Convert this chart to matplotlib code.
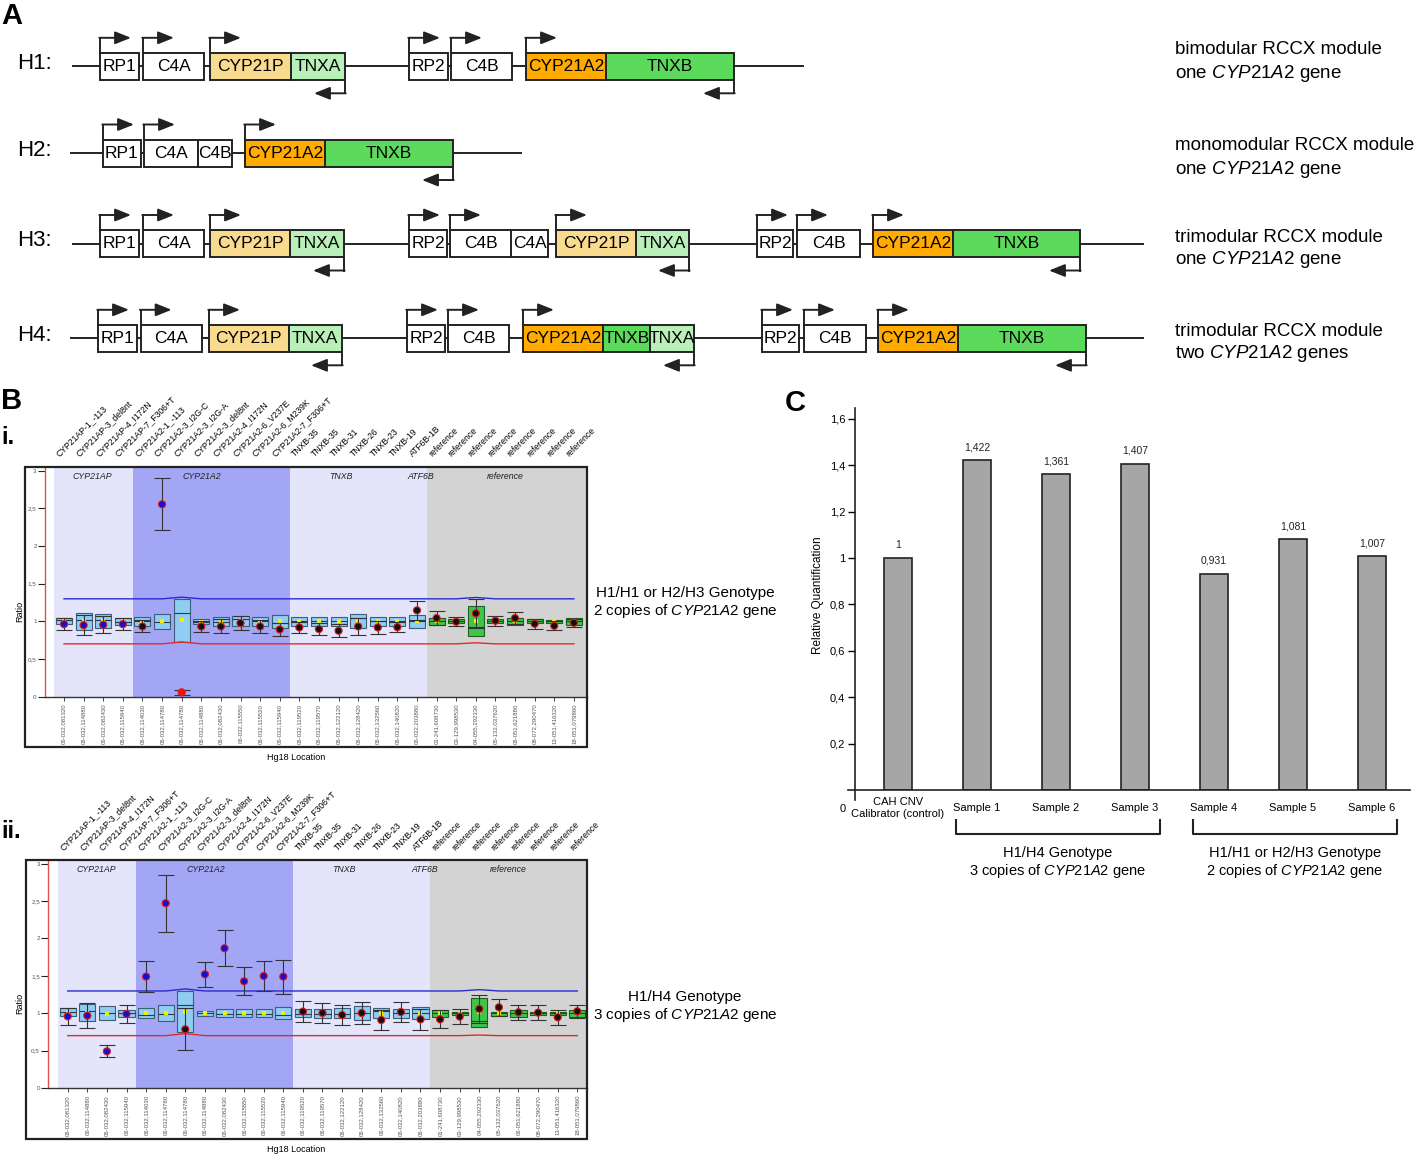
import matplotlib
matplotlib.use('Agg')
import matplotlib.pyplot as plt
import numpy as np
from matplotlib.patches import Rectangle

plt.rcParams['font.family'] = ['Liberation Sans', 'DejaVu Sans']
plt.rcParams['mathtext.fontset'] = 'custom'
plt.rcParams['mathtext.rm'] = 'Liberation Sans'
plt.rcParams['mathtext.it'] = 'Liberation Sans:italic'

W, H = 1417, 1157

# ---------------- panel A: RCCX haplotypes (schematic layout, pixels) ----------------
haplotypes = ['H1', 'H2', 'H3', 'H4']
hap_notes = [('bimodular RCCX module', r'one $\mathit{CYP21A2}$ gene'),
             ('monomodular RCCX module', r'one $\mathit{CYP21A2}$ gene'),
             ('trimodular RCCX module', r'one $\mathit{CYP21A2}$ gene'),
             ('trimodular RCCX module', r'two $\mathit{CYP21A2}$ genes')]
# gene name, start, end, promoter arrow ('f' forward at start, 'r' reverse at end)
hap_genes = {
    'H1': [('RP1', 100, 138.5, 'f'), ('C4A', 143, 204, 'f'), ('CYP21P', 210, 291, 'f'), ('TNXA', 291, 345, 'r'),
           ('RP2', 409, 448, 'f'), ('C4B', 451, 512, 'f'), ('CYP21A2', 526, 606, 'f'), ('TNXB', 606, 734, 'r')],
    'H2': [('RP1', 103, 141, 'f'), ('C4A', 144, 198, 'f'), ('C4B', 198, 232, ''), ('CYP21A2', 245, 325, 'f'),
           ('TNXB', 325, 453, 'r')],
    'H3': [('RP1', 100, 138.5, 'f'), ('C4A', 143, 204, 'f'), ('CYP21P', 210, 290, 'f'), ('TNXA', 290, 344, 'r'),
           ('RP2', 409, 447, 'f'), ('C4B', 450, 511, 'f'), ('C4A', 511, 548, ''), ('CYP21P', 556, 636, 'f'),
           ('TNXA', 636, 689, 'r'), ('RP2', 757, 793, 'f'), ('C4B', 797, 860, 'f'), ('CYP21A2', 873, 953, 'f'),
           ('TNXB', 953, 1080, 'r')],
    'H4': [('RP1', 98, 136.5, 'f'), ('C4A', 140.6, 202, 'f'), ('CYP21P', 209, 288.5, 'f'), ('TNXA', 288.5, 342, 'r'),
           ('RP2', 407, 445, 'f'), ('C4B', 448, 509, 'f'), ('CYP21A2', 523, 603, 'f'), ('TNXB', 603, 650, ''),
           ('TNXA', 650, 694, 'r'), ('RP2', 762, 799, 'f'), ('C4B', 804, 866, 'f'), ('CYP21A2', 878, 958, 'f'),
           ('TNXB', 958, 1086, 'r')],
}
hap_y = [66.3, 153, 243.5, 338.3]
hap_line = [(73, 803), (71, 521), (73, 1143), (71, 1143)]
note_y = [50, 146, 237, 331]
gene_colors = {'CYP21P': '#f9db90', 'TNXA': '#b9efb9', 'CYP21A2': '#ffab00', 'TNXB': '#5bda5b'}

# ---------------- panel B: MLPA probe ratios ----------------
probe_names = ['CYP21AP-1_-113', 'CYP21AP-3_del8nt', 'CYP21AP-4_I172N', 'CYP21AP-7_F306+T',
               'CYP21A2-1_-113', 'CYP21A2-3_I2G-C', 'CYP21A2-3_I2G-A', 'CYP21A2-3_del8nt',
               'CYP21A2-4_I172N', 'CYP21A2-6_V237E', 'CYP21A2-6_M239K', 'CYP21A2-7_F306+T',
               'TNXB-35', 'TNXB-35', 'TNXB-31', 'TNXB-26', 'TNXB-23', 'TNXB-19', 'ATF6B-1B',
               'reference', 'reference', 'reference', 'reference', 'reference', 'reference',
               'reference', 'reference']
probe_loc = ['06-032,081320', '06-032,114880', '06-032,082430', '06-032,115940', '06-032,114030',
             '06-032,114780', '06-032,114780', '06-032,114880', '06-032,082430', '06-032,115550',
             '06-032,115520', '06-032,115940', '06-032,119520', '06-032,119570', '06-032,122120',
             '06-032,128420', '06-032,132560', '06-032,140820', '06-032,203880', '01-241,608730',
             '03-129,998530', '04-055,292330', '05-132,037620', '06-051,621880', '08-072,290470',
             '13-051,416320', '18-051,079860']
region_names = ['CYP21AP', 'CYP21A2', 'TNXB', 'ATF6B', 'reference']
region_label_x = [1.45, 7.05, 14.1, 18.2, 22.5]
group_sizes = [4, 8, 7, 8]

# sample i. (H1/H1 or H2/H3)
bi_ratio = [0.964, 0.95, 0.955, 0.964, 0.933, 2.556, 0.058, 0.933, 0.933, 0.978, 0.933, 0.893, 0.92, 0.898,
            0.876, 0.933, 0.92, 0.924, 1.147, 1.044, 0.996, 1.107, 1.009, 1.044, 0.969, 0.942, 0.982]
bi_err = [0.08, 0.13, 0.115, 0.08, 0.08, 0.345, 0.03, 0.075, 0.093, 0.094, 0.083, 0.089, 0.07, 0.08,
          0.085, 0.113, 0.089, 0.066, 0.125, 0.092, 0.062, 0.193, 0.067, 0.08, 0.067, 0.058, 0.05]
bi_q1 = [0.964, 0.889, 0.911, 0.947, 0.933, 0.898, 0.733, 0.964, 0.933, 0.933, 0.933, 0.916, 0.933, 0.933,
         0.933, 0.907, 0.933, 0.933, 0.916, 0.947, 0.973, 0.809, 0.973, 0.947, 0.978, 0.978, 0.947]
bi_q3 = [1.044, 1.111, 1.098, 1.044, 1.058, 1.098, 1.298, 1.031, 1.058, 1.076, 1.058, 1.084, 1.058, 1.058,
         1.058, 1.098, 1.058, 1.058, 1.084, 1.044, 1.031, 1.209, 1.031, 1.044, 1.031, 1.022, 1.044]
bi_med = [1.013, 1.013, 1.013, 0.99, 1.0, 0.99, 1.111, 0.99, 0.99, 1.031, 1.0, 0.978, 1.0, 1.0,
          1.0, 1.04, 1.0, 1.0, 1.0, 1.0, 1.0, 0.93, 1.0, 1.0, 1.0, 1.0, 1.0]
bi_mean = [1.0, 1.0, 1.0, 1.0, 0.99, 1.0, 1.018, 0.99, 0.99, 1.0, 1.0, 1.0, 1.0, 1.0,
           1.0, 1.0, 1.0, 1.0, 1.0, 1.0, 1.0, 1.009, 1.0, 1.0, 1.0, 1.0, 1.0]
bi_call = ['B', 'B', 'B', 'B', 'K', 'B', 'R', 'K', 'K', 'K', 'K', 'K', 'K', 'K',
           'K', 'K', 'K', 'K', 'K', 'K', 'K', 'K', 'K', 'K', 'K', 'K', 'K']
bi_hi = [1.3, 1.3, 1.3, 1.3, 1.3, 1.3, 1.322, 1.3, 1.3, 1.3, 1.3, 1.3, 1.3, 1.3,
         1.3, 1.3, 1.3, 1.3, 1.3, 1.3, 1.3, 1.318, 1.3, 1.3, 1.3, 1.3, 1.3]
bi_lo = [0.702, 0.702, 0.702, 0.702, 0.702, 0.702, 0.728, 0.702, 0.702, 0.702, 0.702, 0.702, 0.702, 0.702,
         0.702, 0.702, 0.702, 0.702, 0.702, 0.702, 0.702, 0.716, 0.702, 0.702, 0.702, 0.702, 0.702]

# sample ii. (H1/H4)
bii_ratio = [0.958, 0.967, 0.49, 0.99, 1.489, 2.47, 0.785, 1.52, 1.868, 1.427, 1.498, 1.489, 1.021, 1.003,
             0.976, 1.003, 0.909, 1.016, 0.918, 0.918, 0.954, 1.057, 1.079, 1.012, 1.008, 0.945, 1.025]
bii_err = [0.11, 0.17, 0.08, 0.12, 0.207, 0.38, 0.28, 0.17, 0.243, 0.19, 0.2, 0.226, 0.138, 0.138,
           0.138, 0.15, 0.13, 0.13, 0.142, 0.12, 0.105, 0.187, 0.11, 0.1, 0.1, 0.1, 0.09]
bii_q1 = [0.967, 0.892, 0.905, 0.95, 0.936, 0.892, 0.745, 0.967, 0.945, 0.945, 0.945, 0.923, 0.945, 0.936,
          0.936, 0.905, 0.936, 0.936, 0.923, 0.945, 0.972, 0.816, 0.967, 0.945, 0.976, 0.972, 0.945]
bii_q3 = [1.07, 1.123, 1.101, 1.048, 1.066, 1.11, 1.297, 1.03, 1.057, 1.057, 1.057, 1.083, 1.057, 1.057,
          1.066, 1.101, 1.066, 1.057, 1.083, 1.043, 1.021, 1.199, 1.021, 1.043, 1.021, 1.017, 1.043]
bii_med = [1.017, 1.035, 1.003, 1.0, 0.976, 0.994, 1.11, 1.0, 0.994, 0.994, 0.994, 0.976, 0.994, 0.994,
           0.994, 1.0, 1.025, 1.0, 1.003, 1.003, 1.0, 0.9, 1.0, 1.0, 1.0, 1.0, 1.0]
bii_mean = [1.0, 1.0, 0.99, 1.0, 1.0, 1.0, 1.016, 1.0, 1.0, 1.0, 1.0, 1.0, 1.0, 1.0,
            1.0, 1.0, 1.0, 1.0, 1.0, 1.0, 1.0, 1.016, 1.0, 1.0, 1.0, 1.0, 1.0]
bii_call = ['B', 'B', 'B', 'B', 'B', 'B', 'K', 'B', 'B', 'B', 'B', 'B', 'K', 'K',
            'K', 'K', 'K', 'K', 'K', 'K', 'K', 'K', 'K', 'K', 'K', 'K', 'K']
bii_hi = [1.297, 1.297, 1.297, 1.297, 1.297, 1.297, 1.324, 1.297, 1.297, 1.297, 1.297, 1.297, 1.297, 1.297,
          1.297, 1.297, 1.297, 1.297, 1.297, 1.297, 1.297, 1.315, 1.297, 1.297, 1.297, 1.297, 1.297]
bii_lo = [0.7, 0.7, 0.7, 0.7, 0.7, 0.7, 0.727, 0.7, 0.7, 0.7, 0.7, 0.7, 0.7, 0.7,
          0.7, 0.7, 0.7, 0.7, 0.7, 0.7, 0.7, 0.708, 0.7, 0.7, 0.7, 0.7, 0.7]

# ---------------- panel C: qPCR relative quantification ----------------
c_labels = ['CAH CNV\nCalibrator (control)', 'Sample 1', 'Sample 2', 'Sample 3',
            'Sample 4', 'Sample 5', 'Sample 6']
c_values = [1, 1.422, 1.361, 1.407, 0.931, 1.081, 1.007]
c_groups = [(1, 3, 'H1/H4 Genotype', r'3 copies of $\mathit{CYP21A2}$ gene'),
            (4, 6, 'H1/H1 or H2/H3 Genotype', r'2 copies of $\mathit{CYP21A2}$ gene')]


def fmt_comma(v):
    return ('%g' % v).replace('.', ',')


fig = plt.figure(figsize=(W / 100, H / 100), dpi=100)


def axes_px(x0, y0, x1, y1, **kw):
    return fig.add_axes([x0 / W, 1 - y1 / H, (x1 - x0) / W, (y1 - y0) / H], **kw)


def draw_cnv(ax, ratio, err, q1, q3, med, mean, call, hi, lo, xlim, ylim, label_y):
    n = len(ratio)
    x = np.arange(n)
    ax.set_xlim(*xlim)
    ax.set_ylim(*ylim)

    edges = [-0.5]
    for size in group_sizes:
        edges.append(edges[-1] + size)
    edges[-1] = xlim[1]
    shades = ['#e4e4fb', '#a3a6f5', '#e4e4fb', '#d3d3d3']
    for k in range(4):
        ax.axvspan(edges[k], edges[k + 1], color=shades[k], lw=0, zorder=0)
    for name, xr in zip(region_names, region_label_x):
        ax.text(xr, 2.92, name, style='italic', ha='center', va='center', fontsize=6.3, color='#222')

    n_ref = group_sizes[-1]
    face = ['#8fcdf3'] * (n - n_ref) + ['#3fc64a'] * n_ref
    edge = ['#3c5e78'] * (n - n_ref) + ['#1f5e24'] * n_ref
    q1 = np.array(q1)
    q3 = np.array(q3)
    ax.bar(x, q3 - q1, bottom=q1, width=0.82, color=face, edgecolor=edge, lw=0.8, zorder=2)
    ax.hlines(med, x - 0.41, x + 0.41, colors='#2a3a48', lw=0.8, zorder=3)
    ax.plot(x, mean, 's', color='#f4f000', ms=2.2, mew=0, zorder=3)

    ax.plot(x, hi, color='#2a2ad2', lw=1.0, zorder=2)
    ax.plot(x, lo, color='#e02a2a', lw=1.0, zorder=2)

    ax.errorbar(x, ratio, yerr=err, fmt='none', ecolor='#333', elinewidth=0.8,
                capsize=5.5, capthick=0.8, zorder=4)
    dot = {'B': '#1010d0', 'K': '#111111', 'R': '#f01010'}
    ax.scatter(x, ratio, s=26, c=[dot[c] for c in call], edgecolors='#e01818', linewidths=0.8, zorder=5)

    for i, lab in enumerate(probe_names):
        ax.text(i - 0.15, label_y, lab, rotation=45, rotation_mode='anchor', ha='left', va='bottom',
                fontsize=6.2, clip_on=False)

    ax.set_xticks(x)
    ax.set_xticklabels(probe_loc, rotation=90, fontsize=4.3, color='#555')
    ax.set_yticks([0, 0.5, 1, 1.5, 2, 2.5, 3])
    ax.set_yticklabels(['0', '0,5', '1', '1,5', '2', '2,5', '3'], fontsize=4.5, color='#555')
    ax.tick_params(axis='x', length=3, width=0.7, color='#444', pad=2)
    ax.tick_params(axis='y', length=5, width=0.8, color='#222', pad=1)
    ax.spines['top'].set_visible(False)
    ax.spines['right'].set_visible(False)
    ax.spines['left'].set_color('#e05050')
    ax.spines['left'].set_linewidth(1.0)
    ax.spines['bottom'].set_linewidth(1.0)
    ax.spines['bottom'].set_color('#333')


ax_bi = axes_px(45, 466.7, 587, 696.7)
draw_cnv(ax_bi, bi_ratio, bi_err, bi_q1, bi_q3, bi_med, bi_mean, bi_call, bi_hi, bi_lo,
         (-0.97, 26.67), (0, 3.055), 3.17)
ax_bii = axes_px(48.3, 860, 586.7, 1088)
draw_cnv(ax_bii, bii_ratio, bii_err, bii_q1, bii_q3, bii_med, bii_mean, bii_call, bii_hi, bii_lo,
         (-0.99, 26.48), (0, 3.048), 3.155)

# panel C
ax_c = axes_px(855, 408, 1410, 790)
xc = np.arange(len(c_values))
ax_c.bar(xc, c_values, width=0.354, color='#a6a6a6', edgecolor='#222', lw=1.2, zorder=2)
for xi, v in zip(xc, c_values):
    ax_c.text(xi, v + 0.035, fmt_comma(v), ha='center', va='bottom', fontsize=7.5, color='#222')
ax_c.set_xlim(-0.544, 6.48)
ax_c.set_ylim(0, 1.647)
ax_c.set_yticks([0.2, 0.4, 0.6, 0.8, 1.0, 1.2, 1.4, 1.6])
ax_c.set_yticklabels([fmt_comma(t) for t in [0.2, 0.4, 0.6, 0.8, 1.0, 1.2, 1.4, 1.6]], fontsize=8)
ax_c.tick_params(axis='y', length=5, width=1.0, pad=2)
ax_c.set_xticks(xc)
ax_c.set_xticklabels(c_labels, fontsize=8)
for lbl in ax_c.get_xticklabels():
    lbl.set_va('center')
ax_c.tick_params(axis='x', length=0, pad=13)
for s in ['top', 'right', 'left', 'bottom']:
    ax_c.spines[s].set_visible(False)
ax_c.plot([-0.544, -0.544], [-0.045, 1.647], color='#222', lw=1.2, clip_on=False)
ax_c.plot([-0.633, 6.48], [0, 0], color='#222', lw=1.2, clip_on=False)
for first, last, line1, line2 in c_groups:
    x0, x1 = first - 0.27, last + 0.31
    ax_c.plot([x0, x0, x1, x1], [-0.128, -0.19, -0.19, -0.128], color='#222', lw=1.5, clip_on=False)
    xm = (x0 + x1) / 2
    ax_c.text(xm, -0.27, line1, ha='center', va='center', fontsize=10.5)
    ax_c.text(xm, -0.348, line2, ha='center', va='center', fontsize=10.5)

# overlay: schematic, frames and free text
ov = fig.add_axes([0, 0, 1, 1], zorder=10)
ov.set_xlim(0, W)
ov.set_ylim(H, 0)
ov.axis('off')

arrow_kw = dict(arrowstyle='-|>,head_length=0.8,head_width=0.32', color='#222', lw=1.4,
                shrinkA=0, shrinkB=0, mutation_scale=12)
for hap, yc, (ls, le), ny, (n1, n2) in zip(haplotypes, hap_y, hap_line, note_y, hap_notes):
    ov.text(17, yc - 3, hap + ':', fontsize=16, ha='left', va='center')
    ov.plot([ls, le], [yc, yc], color='#222', lw=1.4, zorder=1)
    for name, x0, x1, arr in hap_genes[hap]:
        ov.add_patch(Rectangle((x0, yc - 13.5), x1 - x0, 27, facecolor=gene_colors.get(name, 'white'),
                               edgecolor='#222', lw=1.4, zorder=2))
        ov.text((x0 + x1) / 2, yc + 0.5, name, ha='center', va='center', fontsize=12.5, zorder=3)
        if 'f' in arr:
            ov.plot([x0, x0], [yc - 13.5, yc - 28.5], color='#222', lw=1.4, zorder=2)
            ov.annotate('', xy=(x0 + 31, yc - 28.5), xytext=(x0 - 0.7, yc - 28.5), arrowprops=arrow_kw)
        if 'r' in arr:
            ov.plot([x1, x1], [yc + 13.5, yc + 27], color='#222', lw=1.4, zorder=2)
            ov.annotate('', xy=(x1 - 31, yc + 27), xytext=(x1 + 0.7, yc + 27), arrowprops=arrow_kw)
    ov.text(1175, ny, n1, fontsize=13.5, ha='left', va='center')
    ov.text(1175, ny + 23, n2, fontsize=13.5, ha='left', va='center')

ov.text(1, 16, 'A', fontsize=21, fontweight='bold', ha='left', va='center')
ov.text(1, 401, 'B', fontsize=21, fontweight='bold', ha='left', va='center')
ov.text(1, 437, 'i.', fontsize=17, fontweight='bold', ha='left', va='center')
ov.text(1, 831, 'ii.', fontsize=17, fontweight='bold', ha='left', va='center')
ov.text(785, 403, 'C', fontsize=21, fontweight='bold', ha='left', va='center')

ov.add_patch(Rectangle((25, 466.7), 562, 280, fill=False, edgecolor='#222', lw=1.6))
ov.add_patch(Rectangle((25.7, 860), 561, 279, fill=False, edgecolor='#222', lw=1.6))
ov.text(20, 611, 'Ratio', rotation=90, fontsize=6.5, ha='center', va='center')
ov.text(20, 1003, 'Ratio', rotation=90, fontsize=6.5, ha='center', va='center')
ov.text(296, 757, 'Hg18 Location', fontsize=6.5, ha='center', va='center')
ov.text(296, 1150, 'Hg18 Location', fontsize=6.5, ha='center', va='center')
ov.text(685, 593, 'H1/H1 or H2/H3 Genotype', fontsize=11, ha='center', va='center')
ov.text(685, 611, r'2 copies of $\mathit{CYP21A2}$ gene', fontsize=11, ha='center', va='center')
ov.text(685, 997, 'H1/H4 Genotype', fontsize=11, ha='center', va='center')
ov.text(685, 1015, r'3 copies of $\mathit{CYP21A2}$ gene', fontsize=11, ha='center', va='center')
ov.text(818, 595, 'Relative Quantification', rotation=90, fontsize=8.5, ha='center', va='center')
ov.text(843, 809, '0', fontsize=8, ha='center', va='center')

fig.savefig('out.png', dpi=100)
